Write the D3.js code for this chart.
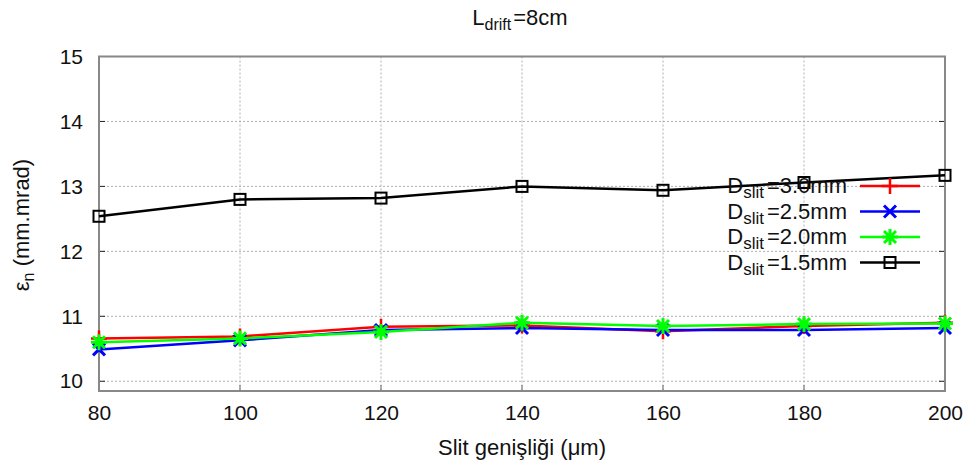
<!DOCTYPE html>
<html>
<head>
<meta charset="utf-8">
<script src="https://cdn.jsdelivr.net/npm/d3@7"></script>
<style>
  html, body { margin: 0; padding: 0; background: #fff; }
  svg text { font-family: "Liberation Sans", Arial, sans-serif; fill: #111; }
</style>
</head>
<body>
<svg id="chart" width="965" height="469"></svg>
<script>
// Slit width (µm)
const slitWidths = [80, 100, 120, 140, 160, 180, 200];
// Normalised emittance (mm.mrad) for each slit thickness
const d30 = [10.66, 10.69, 10.84, 10.86, 10.77, 10.85, 10.90];
const d25 = [10.49, 10.63, 10.79, 10.82, 10.79, 10.79, 10.82];
const d20 = [10.60, 10.66, 10.76, 10.90, 10.85, 10.88, 10.89];
const d15 = [12.54, 12.80, 12.82, 13.00, 12.94, 13.06, 13.17];

const xTicks = [80, 100, 120, 140, 160, 180, 200];
const yTicks = [10, 11, 12, 13, 14, 15];

const seriesNames = ["3.0", "2.5", "2.0", "1.5"];
const seriesValues = [d30, d25, d20, d15];
const seriesColors = ["#ff0000", "#0000ff", "#00ff00", "#000000"];
const seriesMarkers = ["plus", "cross", "star", "square"];

const svg = d3.select("#chart");
const pL = 99, pR = 945, pT = 56.5, pB = 391;

const x = d3.scaleLinear().domain([80, 200]).range([pL, pR]);
const y = d3.scaleLinear().domain([9.85, 15]).range([pB, pT]);

// grid lines
const grid = svg.append("g");
grid.selectAll("line.gx").data(xTicks.slice(1, -1)).join("line")
  .attr("x1", d => x(d)).attr("x2", d => x(d))
  .attr("y1", pT).attr("y2", pB)
  .attr("stroke", "#b0b0b0").attr("stroke-width", 1).attr("stroke-dasharray", "2,2");
grid.selectAll("line.gy").data(yTicks.slice(0, -1)).join("line")
  .attr("x1", pL).attr("x2", pR)
  .attr("y1", d => y(d)).attr("y2", d => y(d))
  .attr("stroke", "#b0b0b0").attr("stroke-width", 1).attr("stroke-dasharray", "2,2");

// axes
const fmt = d3.format("d");
const xAxis = d3.axisBottom(x).tickValues(xTicks).tickFormat(fmt).tickSize(0).tickPadding(14);
const yAxis = d3.axisLeft(y).tickValues(yTicks).tickFormat(fmt).tickSize(0).tickPadding(16);
const gx = svg.append("g").attr("transform", `translate(0,${pB})`).call(xAxis);
const gy = svg.append("g").attr("transform", `translate(${pL},0)`).call(yAxis);
[gx, gy].forEach(g => {
  g.select(".domain").remove();
  g.selectAll("text").attr("font-size", 21).attr("font-family", "Liberation Sans, Arial, sans-serif").attr("fill", "#111");
});

// tick marks inside the frame
svg.append("g").selectAll("line").data(yTicks).join("line")
  .attr("x1", pL).attr("x2", pL + 6)
  .attr("y1", d => y(d)).attr("y2", d => y(d))
  .attr("stroke", "#222").attr("stroke-width", 1);
svg.append("g").selectAll("line").data(yTicks).join("line")
  .attr("x1", pR - 6).attr("x2", pR)
  .attr("y1", d => y(d)).attr("y2", d => y(d))
  .attr("stroke", "#222").attr("stroke-width", 1);
svg.append("g").selectAll("line").data(xTicks).join("line")
  .attr("x1", d => x(d)).attr("x2", d => x(d))
  .attr("y1", pB).attr("y2", pB - 6)
  .attr("stroke", "#666").attr("stroke-width", 1);

// frame
svg.append("rect")
  .attr("x", pL).attr("y", pT)
  .attr("width", pR - pL).attr("height", pB - pT)
  .attr("fill", "none").attr("stroke", "#888").attr("stroke-width", 2);

// marker symbols
function marker(g, type, cx, cy, color) {
  const s = 8;
  if (type === "plus") {
    g.append("path").attr("d", `M${cx - s},${cy}H${cx + s}M${cx},${cy - s}V${cy + s}`)
      .attr("stroke", color).attr("stroke-width", 2.5).attr("fill", "none");
  } else if (type === "cross") {
    const k = 6;
    g.append("path").attr("d", `M${cx - k},${cy - k}L${cx + k},${cy + k}M${cx - k},${cy + k}L${cx + k},${cy - k}`)
      .attr("stroke", color).attr("stroke-width", 3).attr("fill", "none");
  } else if (type === "star") {
    const k = 6;
    g.append("path").attr("d", `M${cx - s},${cy}H${cx + s}M${cx},${cy - s}V${cy + s}M${cx - k},${cy - k}L${cx + k},${cy + k}M${cx - k},${cy + k}L${cx + k},${cy - k}`)
      .attr("stroke", color).attr("stroke-width", 3).attr("fill", "none");
  } else if (type === "square") {
    g.append("rect").attr("x", cx - 5.5).attr("y", cy - 5.5).attr("width", 11).attr("height", 11)
      .attr("stroke", color).attr("stroke-width", 2).attr("fill", "none");
  }
}

const line = d3.line().x(d => x(d[0])).y(d => y(d[1]));

seriesValues.forEach((vals, i) => {
  const pts = slitWidths.map((w, j) => [w, vals[j]]);
  const g = svg.append("g");
  g.append("path").attr("d", line(pts))
    .attr("fill", "none").attr("stroke", seriesColors[i]).attr("stroke-width", 2.5);
  pts.forEach(p => marker(g, seriesMarkers[i], x(p[0]), y(p[1]), seriesColors[i]));
});

// legend
const legend = svg.append("g");
seriesNames.forEach((name, i) => {
  const ly = 186 + i * 25.5;
  const t = legend.append("text").attr("x", 847).attr("y", ly + 7)
    .attr("text-anchor", "end").attr("font-size", 22);
  t.append("tspan").text("D");
  t.append("tspan").attr("font-size", 17).attr("dy", 5).text("slit");
  t.append("tspan").attr("dy", -5).attr("dx", 3).text("=" + name + "mm");
  legend.append("line").attr("x1", 860).attr("x2", 920).attr("y1", ly).attr("y2", ly)
    .attr("stroke", seriesColors[i]).attr("stroke-width", 2.5);
  marker(legend, seriesMarkers[i], 890, ly, seriesColors[i]);
});

// title
const title = svg.append("text").attr("x", 520).attr("y", 25)
  .attr("text-anchor", "middle").attr("font-size", 22);
title.append("tspan").text("L");
title.append("tspan").attr("font-size", 16).attr("dy", 5).text("drift");
title.append("tspan").attr("dy", -5).attr("dx", 2).text("=8cm");

// x label
svg.append("text").attr("x", 522).attr("y", 455)
  .attr("text-anchor", "middle").attr("font-size", 22)
  .text("Slit genişliği (μm)");

// y label
const yl = svg.append("text")
  .attr("transform", "translate(29,225) rotate(-90)")
  .attr("text-anchor", "middle").attr("font-size", 22);
yl.append("tspan").text("ε");
yl.append("tspan").attr("font-size", 16).attr("dy", 5).text("n");
yl.append("tspan").attr("dy", -5).text("  (mm.mrad)");
</script>
</body>
</html>
